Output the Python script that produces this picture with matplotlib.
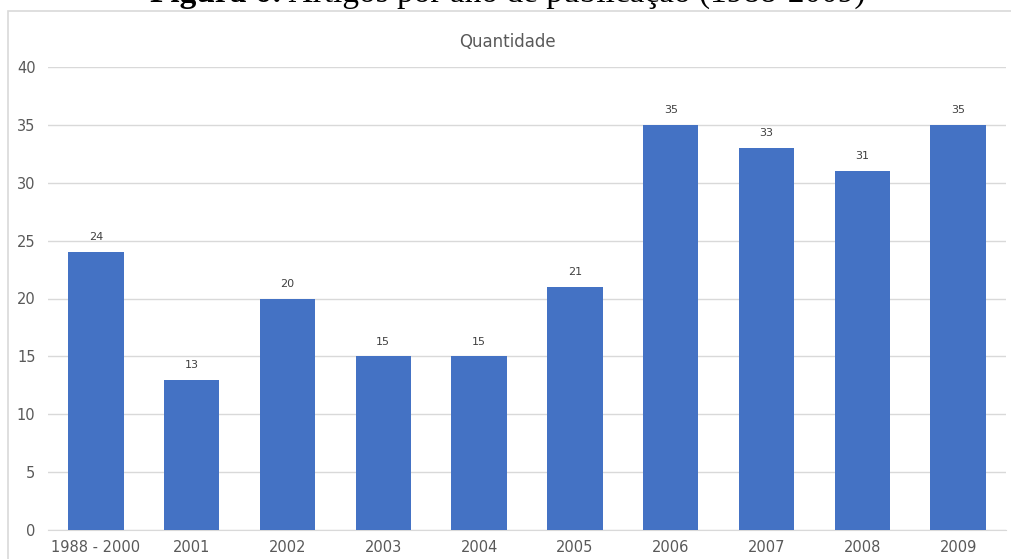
import matplotlib
matplotlib.use("Agg")
import matplotlib.pyplot as plt
from matplotlib.patches import Rectangle

# dados do grafico
anos = ["1988 - 2000", "2001", "2002", "2003", "2004", "2005", "2006", "2007", "2008", "2009"]
quantidade = [24, 13, 20, 15, 15, 21, 35, 33, 31, 35]
y_ticks = [0, 5, 10, 15, 20, 25, 30, 35, 40]

W, H = 1012, 559
fig = plt.figure(figsize=(W / 100, H / 100), dpi=100)

# moldura do grafico (estilo Excel)
fig.patches.append(Rectangle((8 / W, -0.1), 1.2, 1.1 - 11 / H, transform=fig.transFigure,
                             fill=False, edgecolor="#d9d9d9", linewidth=1.2))

# legenda da figura, cortada no topo da imagem (so a parte de baixo aparece)
t1 = fig.text(150 / W, 1 - 2 / H, "Figura 6:", fontsize=24, fontweight="bold",
              family="Liberation Serif", va="baseline", ha="left")
fig.canvas.draw()
bb = t1.get_window_extent()
fig.text(bb.x1 / W, 1 - 2 / H, " Artigos por ano de publicação (1988-2009)", fontsize=24,
         family="Liberation Serif", va="baseline", ha="left")

ax = fig.add_axes([48 / W, 29 / H, 958 / W, 463 / H])
x = list(range(len(anos)))
bars = ax.bar(x, quantidade, width=0.58, color="#4472C4", zorder=3)

for xi, v in zip(x, quantidade):
    ax.annotate(str(v), (xi, v), xytext=(0, 7), textcoords="offset points",
                ha="center", va="bottom", fontsize=8, color="#404040")

ax.set_xlim(-0.5, len(anos) - 0.5)
ax.set_ylim(0, 40)
ax.set_yticks(y_ticks)
ax.set_xticks(x)
ax.set_xticklabels(anos)
ax.grid(axis="y", color="#d9d9d9", linewidth=1, zorder=0)
ax.tick_params(axis="both", length=0, colors="#595959", labelsize=10.5)
ax.tick_params(axis="y", pad=9)
ax.tick_params(axis="x", pad=7)
for s in ["top", "right", "left"]:
    ax.spines[s].set_visible(False)
ax.spines["bottom"].set_color("#d9d9d9")

fig.text(507 / W, 1 - 42 / H, "Quantidade", ha="center", va="center",
         fontsize=12, color="#595959")

fig.savefig("out.png", dpi=100)
